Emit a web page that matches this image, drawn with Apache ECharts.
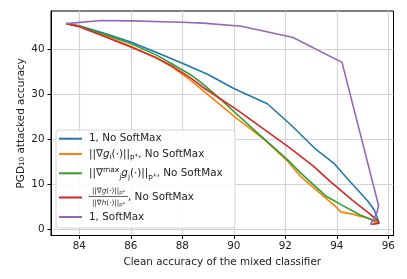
<!DOCTYPE html>
<html>
<head>
<meta charset="utf-8">
<script src="https://cdn.jsdelivr.net/npm/echarts@6/dist/echarts.min.js"></script>
<style>html,body{margin:0;padding:0;background:#fff}#c{width:407px;height:279px}</style>
</head>
<body>
<div id="c"></div>
<script>
const xTicks = [84, 86, 88, 90, 92, 94, 96];
const yTicks = [0, 10, 20, 30, 40];

const names = ['1, No SoftMax', '||∇g_i(·)||_p*, No SoftMax', '||∇max_j g_j(·)||_p*, No SoftMax', '||∇g(·)||_p* / ||∇h(·)||_p*, No SoftMax', '1, SoftMax'];

const blueX = [83.5, 84.0, 85.0, 86.0, 87.0, 88.0, 89.0, 90.0, 91.3, 92.2, 93.2, 93.9, 94.5, 95.2, 95.45, 95.56, 95.62];
const blueY = [45.6, 45.1, 43.4, 41.5, 39.2, 36.8, 34.3, 31.2, 27.8, 23.2, 17.6, 14.5, 10.6, 6.2, 4.2, 2.7, 1.4];

const orangeX = [83.5, 84.0, 85.0, 86.0, 87.0, 87.6, 88.3, 88.85, 90.1, 91.2, 92.1, 92.6, 93.5, 93.95, 94.15, 94.6, 95.2, 95.5, 95.4];
const orangeY = [45.6, 45.0, 42.9, 40.6, 37.9, 36.0, 33.1, 30.5, 24.6, 19.8, 15.0, 11.6, 7.2, 5.0, 3.8, 3.3, 2.4, 1.6, 1.0];

const greenX = [83.5, 84.0, 85.0, 86.0, 87.0, 87.56, 88.33, 88.84, 89.5, 91.0, 92.1, 92.6, 93.6, 94.2, 94.9, 95.4, 95.63, 95.5];
const greenY = [45.6, 45.0, 43.2, 41.2, 38.6, 36.8, 34.2, 32.0, 28.7, 20.9, 15.3, 12.4, 7.2, 5.3, 3.1, 2.0, 1.7, 1.1];

const redX = [83.5, 84.0, 85.0, 86.0, 87.0, 87.56, 88.33, 88.84, 90.14, 91.3, 92.2, 93.1, 93.75, 94.6, 95.18, 95.56, 95.65, 95.35];
const redY = [45.6, 44.9, 42.7, 40.4, 38.0, 36.3, 33.5, 31.3, 26.4, 21.6, 17.9, 13.9, 10.5, 6.4, 3.8, 2.0, 1.3, 1.0];

const purpleX = [83.5, 84.85, 86.0, 88.0, 88.8, 90.3, 92.3, 94.2, 95.62, 95.55, 95.3];
const purpleY = [45.6, 46.3, 46.2, 45.9, 45.7, 45.0, 42.5, 37.0, 5.2, 3.5, 0.9];

const colors = ['#1f77b4', '#ff7f0e', '#2ca02c', '#d62728', '#9467bd'];
const allX = [blueX, orangeX, greenX, redX, purpleX];
const allY = [blueY, orangeY, greenY, redY, purpleY];

const FONT = 'DejaVu Sans';
const FS = 10.4;
const TXT = '#222';

const rich = {
  t: {fontFamily: FONT, fontSize: FS, color: TXT, lineHeight: 14},
  it: {fontFamily: FONT, fontSize: FS, color: TXT, lineHeight: 14, fontStyle: 'italic'},
  sub: {fontFamily: FONT, fontSize: 7.3, color: TXT, lineHeight: 8, verticalAlign: 'bottom'},
  sup: {fontFamily: FONT, fontSize: 7.5, color: TXT, lineHeight: 9, verticalAlign: 'top'},
  fr: {width: 39, height: 10, lineHeight: 14}
};
const labelRich = [
  '{t|1, No SoftMax}',
  '{t|||∇}{it|g}{sub|i}{t|(·)||}{sub|p*}{t|, No SoftMax}',
  '{t|||∇}{sup|max}{sub|j}{it|g}{sub|j}{t|(·)||}{sub|p*}{t|, No SoftMax}',
  '{fr|}{t|, No SoftMax}',
  '{t|1, SoftMax}'
];
const legendCenters = [140.7, 156, 173.3, 198.5, 219];

const series = allX.map((xs, i) => ({
  name: names[i],
  type: 'line',
  data: xs.map((x, k) => [x, allY[i][k]]),
  showSymbol: false,
  symbol: 'none',
  lineStyle: {color: colors[i], width: 1.6},
  itemStyle: {color: colors[i]},
  z: 2 + i * 0.01,
  animation: false
}));

const legends = names.map((n, i) => ({
  data: [{name: n, icon: 'rect'}],
  left: 59,
  top: legendCenters[i] - 7,
  padding: 0,
  itemWidth: 23,
  itemHeight: 2,
  selectedMode: false,
  formatter: () => labelRich[i],
  textStyle: {rich: rich, padding: [0, 0, 0, 2]},
  z: 5
}));

const chart = echarts.init(document.getElementById('c'), null, {renderer: 'canvas'});
chart.setOption({
  animation: false,
  backgroundColor: '#fff',
  grid: {left: 51, right: 13.5, top: 11, bottom: 43.5, show: true, borderColor: '#000', borderWidth: 1, backgroundColor: 'transparent'},
  xAxis: {
    type: 'value', min: 82.9, max: 96.2,
    name: 'Clean accuracy of the mixed classifier', nameLocation: 'middle', nameGap: 21.5,
    nameMoveOverlap: false,
    nameTextStyle: {fontFamily: FONT, fontSize: FS, color: TXT},
    axisLine: {show: true, onZero: false, lineStyle: {color: '#000', width: 1}},
    axisTick: {show: true, length: 3.5, lineStyle: {color: '#000', width: 1}, customValues: xTicks},
    axisLabel: {fontFamily: FONT, fontSize: FS, color: TXT, margin: 6, customValues: xTicks},
    splitLine: {show: true, lineStyle: {color: '#d3d3d3', width: 1.2}}
  },
  yAxis: {
    type: 'value', min: -1.45, max: 48.4,
    name: 'PGD{s|10} attacked accuracy', nameLocation: 'middle', nameGap: 25,
    nameMoveOverlap: false,
    nameTextStyle: {fontFamily: FONT, fontSize: FS, color: TXT, rich: {s: {fontFamily: FONT, fontSize: 7.3, color: TXT, lineHeight: 8, verticalAlign: 'bottom'}}},
    axisLine: {show: true, onZero: false, lineStyle: {color: '#000', width: 1}},
    axisTick: {show: true, length: 3.5, lineStyle: {color: '#000', width: 1}, customValues: yTicks},
    axisLabel: {fontFamily: FONT, fontSize: FS, color: TXT, margin: 6.5, customValues: yTicks},
    splitLine: {show: true, lineStyle: {color: '#d3d3d3', width: 1.2}}
  },
  legend: legends,
  graphic: [
    {type: 'rect', shape: {x: 56, y: 130, width: 179, height: 98, r: 3}, style: {fill: 'rgba(255,255,255,0.85)', stroke: '#d6d6d6', lineWidth: 1}, z: 3},
    {type: 'text', x: 108.5, y: 191, z: 6, style: {text: '{a|||∇}{b|g}{a|(·)||}{c|p*}', align: 'center', verticalAlign: 'middle', rich: {a: {fontFamily: FONT, fontSize: 7.3, fill: TXT, lineHeight: 9}, b: {fontFamily: FONT, fontSize: 7.3, fill: TXT, fontStyle: 'italic', lineHeight: 9}, c: {fontFamily: FONT, fontSize: 5.2, fill: TXT, lineHeight: 6, verticalAlign: 'bottom'}}}},
    {type: 'line', shape: {x1: 89, y1: 196.5, x2: 128, y2: 196.5}, style: {stroke: TXT, lineWidth: 0.7}, z: 6},
    {type: 'text', x: 108.5, y: 203, z: 6, style: {text: '{a|||∇}{b|h}{a|(·)||}{c|p*}', align: 'center', verticalAlign: 'middle', rich: {a: {fontFamily: FONT, fontSize: 7.3, fill: TXT, lineHeight: 9}, b: {fontFamily: FONT, fontSize: 7.3, fill: TXT, fontStyle: 'italic', lineHeight: 9}, c: {fontFamily: FONT, fontSize: 5.2, fill: TXT, lineHeight: 6, verticalAlign: 'bottom'}}}}
  ],
  series: series
});
</script>
</body>
</html>
